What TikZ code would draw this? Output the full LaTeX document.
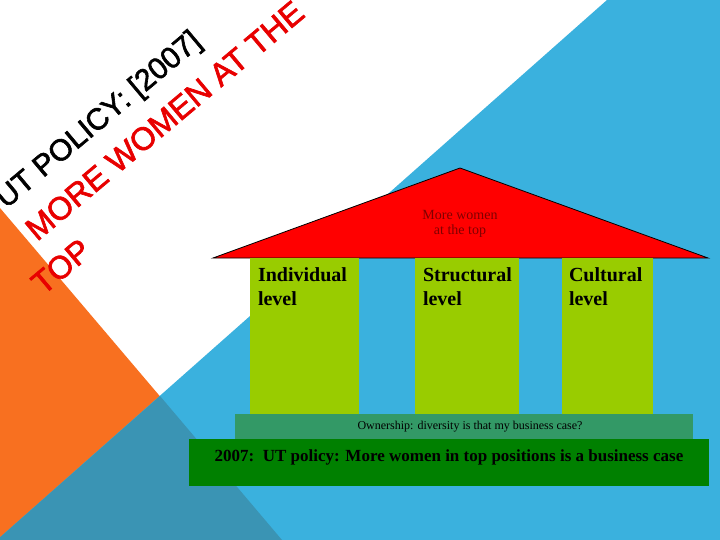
\documentclass[tikz,border=0pt]{standalone}
\usepackage{fontspec}
\setmainfont{Liberation Serif}
\newfontfamily\titlefont[FakeBold=2]{Liberation Sans}
\usepackage{tikz}
\usepackage{xcolor}
\usetikzlibrary{positioning,calc}
\definecolor{slideBlue}{RGB}{58,177,222}
\definecolor{slideOrange}{RGB}{248,112,32}
\definecolor{slideTeal}{RGB}{58,148,180}
\definecolor{roofRed}{RGB}{255,0,0}
\definecolor{roofText}{RGB}{128,0,0}
\definecolor{pillarGreen}{RGB}{153,204,0}
\definecolor{ownerGreen}{RGB}{51,153,102}
\definecolor{policyGreen}{RGB}{0,128,0}
\definecolor{titleRed}{RGB}{232,0,0}

\begin{document}
\begin{tikzpicture}[x=1pt, y=-1pt,
    pillar/.style={rectangle, fill=pillarGreen, inner sep=0pt},
    pillarlabel/.style={anchor=base west, align=left, inner sep=0pt,
        font=\bfseries\fontsize{20}{24}\selectfont},
    slanttitle/.style={rotate=40, inner sep=0pt, titleRed,
        font=\titlefont\fontsize{32}{36}\selectfont}]
    \useasboundingbox (0,0) rectangle (720,540);

    % Background
    \fill[white] (0,0) rectangle (720,540);
    \fill[slideOrange] (0,208) -- (282,540) -- (0,540) -- cycle;
    \fill[slideBlue] (607,0) -- (720,0) -- (720,540) -- (-3,540) -- cycle;
    \fill[slideTeal] (160,396) -- (282,540) -- (-3,540) -- cycle;

    % Title
    \node[slanttitle, black, anchor=base east, font=\titlefont\fontsize{30}{36}\selectfont]
        (line1) at (203,44) {UT POLICY: [2007]};
    \node[slanttitle, anchor=base west] (line2) at (37,242) {MORE WOMEN AT THE};
    \node[slanttitle, anchor=base west] (line3) at (43,296) {TOP};

    % Roof
    \filldraw[fill=roofRed, draw=black, line width=0.8pt] (213,258) -- (460,168) -- (708,258) -- cycle;
    \node[roofText, anchor=base, align=center, inner sep=0pt,
        font=\fontsize{14}{16}\selectfont] (rooftext) at (460,235) {More women\\at the top};

    % Pillars
    \node[pillar, minimum width=109pt, minimum height=156pt] (indiv) at (304.5,336) {};
    \node[pillar, minimum width=104pt, minimum height=156pt] (struct) at (467,336) {};
    \node[pillar, minimum width=91pt, minimum height=156pt] (cult) at (607.5,336) {};
    \node[pillarlabel] (indivtext) at ([shift={(8pt,-48pt)}]indiv.north west) {Individual\\level};
    \node[pillarlabel] (structtext) at ([shift={(8pt,-48pt)}]struct.north west) {Structural\\level};
    \node[pillarlabel] (culttext) at ([shift={(7pt,-48pt)}]cult.north west) {Cultural\\level};

    % Foundation
    \node[rectangle, fill=ownerGreen, minimum width=458pt, minimum height=25pt, inner sep=0pt] (owner) at (464,426.5) {};
    \node[anchor=base, inner sep=0pt, font=\fontsize{12}{14}\selectfont]
        (ownertext) at ([xshift=6pt,yshift=-16pt]owner.north) {Ownership: diversity is that my business case?};
    \node[rectangle, fill=policyGreen, minimum width=520pt, minimum height=47pt, inner sep=0pt] (policy) at (449,462.5) {};
    \node[anchor=base, inner sep=0pt, font=\bfseries\fontsize{17}{20}\selectfont]
        (policytext) at ([yshift=-23pt]policy.north) {2007:\ \ UT policy: More women in top positions is a business case};
\end{tikzpicture}
\end{document}
